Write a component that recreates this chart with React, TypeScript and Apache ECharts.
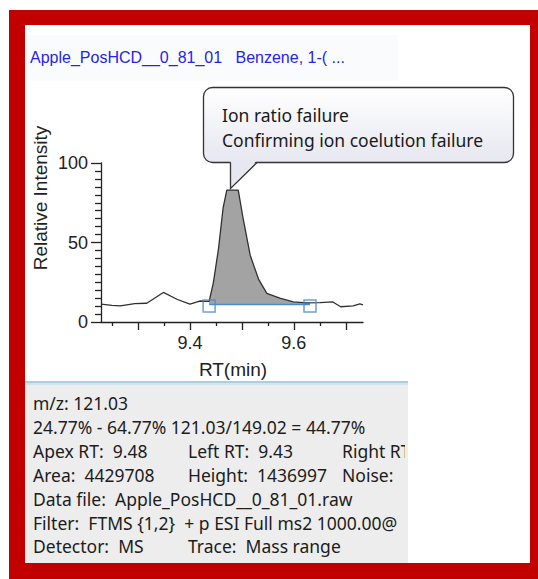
import React, { useEffect, useRef } from "react";
import * as echarts from "echarts";

// ---- chart data ----
const traceRt = [9.229, 9.25, 9.266, 9.294, 9.317, 9.349, 9.375, 9.4, 9.419, 9.437, 9.445, 9.455, 9.464, 9.471, 9.493, 9.503, 9.516, 9.532, 9.548, 9.573, 9.599, 9.624, 9.65, 9.675, 9.69, 9.714, 9.727, 9.733];
const traceIntensity = [11.3, 10.4, 10.2, 11.5, 11.8, 18.6, 14.3, 11.2, 13.2, 13.0, 24.5, 46, 72, 83, 83, 64, 42, 27, 18, 15, 12.6, 12, 12.2, 12.6, 9.6, 10.2, 11.4, 10.8];
const peakRt = [9.437, 9.445, 9.455, 9.464, 9.471, 9.493, 9.503, 9.516, 9.532, 9.548, 9.573, 9.599, 9.624, 9.631];
const peakIntensity = [13.0, 24.5, 46, 72, 83, 83, 64, 42, 27, 18, 15, 12.6, 12, 12.1];
const baselineRt = [9.437, 9.631];
const baselineIntensity = [11, 11];
const xMajorTicks = [9.3, 9.4, 9.5, 9.6, 9.7];
const xMinorTicks = [9.25, 9.35, 9.45, 9.55, 9.65];
const xTickLabels = [9.4, 9.6];
const xRange = [9.229, 9.733];
const yRange = [0, 100];
const yInterval = 50;

// ---- texts ----
const titleText = "Apple_PosHCD__0_81_01   Benzene, 1-( ...";
const yAxisName = "Relative Intensity";
const xAxisName = "RT(min)";
const calloutLines = ["Ion ratio failure", "Confirming ion coelution failure"];
const infoRows: string[][] = [
  ["m/z: 121.03"],
  ["24.77% - 64.77% 121.03/149.02 = 44.77%"],
  ["Apex RT:  9.48", "Left RT:  9.43", "Right RT:  9.63"],
  ["Area:  4429708", "Height:  1436997", "Noise:  {o|5}"],
  ["Data file:  Apple_PosHCD__0_81_01.raw"],
  ["Filter:  FTMS {1,2}  + p ESI Full ms2 1000.00@"],
  ["Detector:  MS", "Trace:  Mass range"],
];

// ---- layout ----
const W = 538;
const H = 579;
const infoColX = [33, 188, 342];
const infoRowY0 = 403;
const infoRowStep = 23.9;
const uiFont = '"Noto Sans", "Open Sans", sans-serif';
const arialFont = '"Liberation Sans", Arial, sans-serif';

export default function App() {
  const ref = useRef<HTMLDivElement>(null);
  useEffect(() => {
    if (!ref.current) return;
    const chart = echarts.init(ref.current, undefined, { renderer: "svg" });

    const graphics: any[] = [
      { type: "rect", z: -20, shape: { x: 9, y: 10, width: 529, height: 569 }, style: { fill: "#c30000" }, silent: true },
      { type: "rect", z: -19, shape: { x: 25, y: 25, width: 505, height: 538 }, style: { fill: "#ffffff" }, silent: true },
      { type: "rect", z: -18, shape: { x: 25, y: 35, width: 373, height: 46 }, style: { fill: "#fafbfd" }, silent: true },
      { type: "text", z: 5, x: 30, y: 57, style: { text: titleText, font: `16px ${arialFont}`, fill: "#2424e8", verticalAlign: "middle" } },
      { type: "text", z: 5, x: 40, y: 198, rotation: Math.PI / 2, style: { text: yAxisName, font: `19px ${arialFont}`, fill: "#222", align: "center", verticalAlign: "middle" } },
      { type: "text", z: 5, x: 233, y: 369, style: { text: xAxisName, font: `19px ${arialFont}`, fill: "#222", align: "center", verticalAlign: "middle" } },
      // info panel
      { type: "rect", z: 1, shape: { x: 25, y: 385, width: 383, height: 178 }, style: { fill: "#ededed" }, silent: true },
      { type: "rect", z: 1, shape: { x: 25, y: 381, width: 383, height: 2 }, style: { fill: "#a9cfe2" }, silent: true },
      { type: "rect", z: 1, shape: { x: 25, y: 383, width: 383, height: 2 }, style: { fill: "#d4e4ee" }, silent: true },
    ];
    infoRows.forEach((row, ri) => {
      row.forEach((txt, ci) => {
        graphics.push({
          type: "text",
          z: 2,
          x: infoColX[ci],
          y: infoRowY0 + ri * infoRowStep,
          style: {
            text: txt,
            font: `17.5px ${uiFont}`,
            fill: "#1c1c1c",
            verticalAlign: "middle",
            rich: { o: { font: `17.5px ${uiFont}`, fill: "#f0b040", padding: [0, 0, 0, 6] } },
          },
        });
      });
    });
    graphics.push(
      { type: "rect", z: 3, shape: { x: 405, y: 385, width: 3, height: 178 }, style: { fill: "#ededed" }, silent: true },
      { type: "rect", z: 3, shape: { x: 408, y: 381, width: 122, height: 182 }, style: { fill: "#ffffff" }, silent: true }
    );
    // callout bubble
    const bubbleFill = {
      type: "linear", x: 0, y: 0, x2: 0, y2: 1,
      colorStops: [{ offset: 0, color: "#ffffff" }, { offset: 1, color: "#e6e7f0" }],
    };
    graphics.push(
      { type: "rect", z: 50, shape: { x: 203.5, y: 87.5, width: 310, height: 75, r: 9 }, style: { fill: bubbleFill, stroke: "#333", lineWidth: 1.3 } },
      { type: "polygon", z: 51, shape: { points: [[230.6, 161], [256.5, 161], [230.6, 187]] }, style: { fill: "#e6e7f0" } },
      { type: "polyline", z: 52, shape: { points: [[230.5, 162.5], [230.5, 188.5], [257, 162.5]] }, style: { stroke: "#333", lineWidth: 1.3, fill: null } },
      { type: "text", z: 53, x: 222, y: 115, style: { text: calloutLines[0], font: `17.5px ${uiFont}`, fill: "#1a1a1a", verticalAlign: "middle" } },
      { type: "text", z: 53, x: 222, y: 140, style: { text: calloutLines[1], font: `17.5px ${uiFont}`, fill: "#1a1a1a", verticalAlign: "middle" } }
    );

    const axisColor = "#222";
    const option: any = {
      animation: false,
      grid: { left: 101, top: 163, width: 262, height: 159, containLabel: false },
      xAxis: [
        {
          type: "value",
          position: "bottom",
          min: xRange[0],
          max: xRange[1],
          axisLine: { show: true, lineStyle: { color: axisColor, width: 1.3 } },
          axisTick: { show: true, length: 8, customValues: xMajorTicks, lineStyle: { color: axisColor, width: 1.3 } },
          axisLabel: {
            show: true,
            customValues: xTickLabels,
            margin: 12,
            fontSize: 18,
            fontFamily: arialFont,
            color: "#222",
            formatter: (v: number) => v.toFixed(1),
          },
          splitLine: { show: false },
        },
        {
          type: "value",
          position: "bottom",
          min: xRange[0],
          max: xRange[1],
          axisLine: { show: false },
          axisTick: { show: true, length: 4, customValues: xMinorTicks, lineStyle: { color: axisColor, width: 1.3 } },
          axisLabel: { show: false },
          splitLine: { show: false },
        },
      ],
      yAxis: {
        type: "value",
        min: yRange[0],
        max: yRange[1],
        interval: yInterval,
        axisLine: { show: true, lineStyle: { color: axisColor, width: 1.3 } },
        axisTick: { show: true, length: 10, lineStyle: { color: axisColor, width: 1.3 } },
        minorTick: { show: true, splitNumber: 10, length: 6, lineStyle: { color: axisColor, width: 1.3 } },
        axisLabel: { margin: 13, fontSize: 18, fontFamily: arialFont, color: "#222" },
        splitLine: { show: false },
        minorSplitLine: { show: false },
      },
      graphic: { elements: graphics },
      series: [
        {
          type: "custom",
          xAxisIndex: 0,
          z: 2,
          data: [[peakRt[0], peakIntensity[0]]],
          renderItem: (_params: any, api: any) => {
            const pts: number[][] = [];
            peakRt.forEach((x, i) => pts.push(api.coord([x, peakIntensity[i]])));
            for (let i = baselineRt.length - 1; i >= 0; i--) pts.push(api.coord([baselineRt[i], baselineIntensity[i]]));
            return { type: "polygon", shape: { points: pts }, style: { fill: "#a3a3a3", stroke: "none" } };
          },
        },
        {
          type: "line",
          xAxisIndex: 0,
          z: 3,
          data: traceRt.map((x, i) => [x, traceIntensity[i]]),
          showSymbol: false,
          symbol: "none",
          lineStyle: { color: "#303030", width: 1.3 },
        },
        {
          type: "line",
          xAxisIndex: 0,
          z: 4,
          data: baselineRt.map((x, i) => [x, baselineIntensity[i]]),
          showSymbol: false,
          symbol: "none",
          lineStyle: { color: "#4a8ac8", width: 1.5 },
        },
        {
          type: "scatter",
          xAxisIndex: 0,
          z: 5,
          data: baselineRt.map((x, i) => [x, baselineIntensity[i]]),
          symbol: "rect",
          symbolSize: 12,
          symbolOffset: [0, 1.5],
          itemStyle: { color: "rgba(0,0,0,0)", borderColor: "#4a8ac8", borderWidth: 1.5 },
        },
      ],
    };
    chart.setOption(option);
    return () => chart.dispose();
  }, []);

  return (
    <div
      ref={ref}
      style={{ position: "fixed", left: 0, top: 0, width: W, height: H, background: "#ffffff" }}
    />
  );
}
